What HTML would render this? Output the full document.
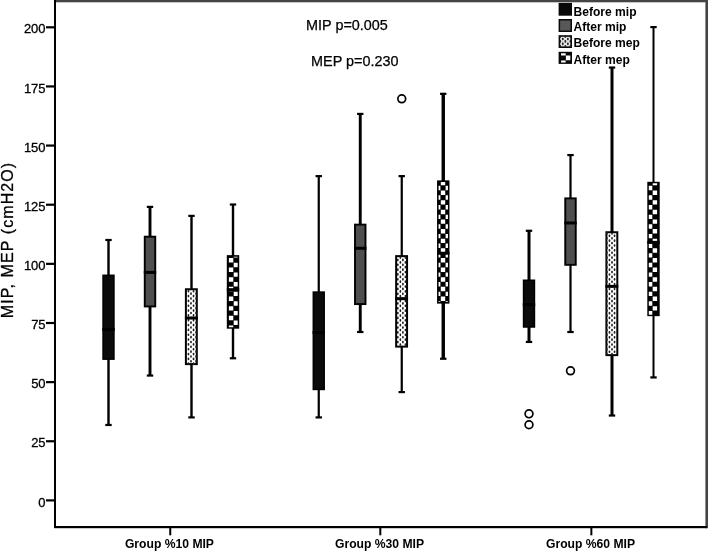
<!DOCTYPE html>
<html lang="en"><head><meta charset="utf-8"><title>MIP, MEP boxplot</title>
<style>
html,body{margin:0;padding:0;background:#fff}
svg{display:block}
text{font-family:"Liberation Sans",Arial,sans-serif;fill:#000}
.yt{font-size:13px;text-anchor:end;stroke:#000;stroke-width:.3px}
.xt{font-size:12.15px;font-weight:bold;text-anchor:middle}
.lg{font-size:12.05px;font-weight:bold}
.tt{font-size:14.4px;stroke:#000;stroke-width:.25px}
.yl{font-size:16px;text-anchor:middle;letter-spacing:1.1px;stroke:#000;stroke-width:.3px}
</style></head><body>
<svg width="708" height="552" viewBox="0 0 708 552">
<rect width="708" height="552" fill="#fff"/>

<rect x="54" y="0" width="654" height="2.3" fill="#444"/>
<rect x="705.4" y="0" width="2.6" height="528.2" fill="#444"/>
<rect x="54" y="0" width="2" height="528" fill="#000"/>
<rect x="54" y="526" width="653" height="2.2" fill="#000"/>
<rect x="46" y="499.3" width="9" height="2.2" fill="#000"/>
<text class="yt" x="45.6" y="506.5">0</text>
<rect x="46" y="440.16" width="9" height="2.2" fill="#000"/>
<text class="yt" x="45.6" y="447.36">25</text>
<rect x="46" y="381.03" width="9" height="2.2" fill="#000"/>
<text class="yt" x="45.6" y="388.23">50</text>
<rect x="46" y="321.89" width="9" height="2.2" fill="#000"/>
<text class="yt" x="45.6" y="329.09">75</text>
<rect x="46" y="262.75" width="9" height="2.2" fill="#000"/>
<text class="yt" x="45.6" y="269.95">100</text>
<rect x="46" y="203.61" width="9" height="2.2" fill="#000"/>
<text class="yt" x="45.6" y="210.81">125</text>
<rect x="46" y="144.47" width="9" height="2.2" fill="#000"/>
<text class="yt" x="45.6" y="151.68">150</text>
<rect x="46" y="85.34" width="9" height="2.2" fill="#000"/>
<text class="yt" x="45.6" y="92.54">175</text>
<rect x="46" y="26.2" width="9" height="2.2" fill="#000"/>
<text class="yt" x="45.6" y="33.4">200</text>
<rect x="169.25" y="527" width="2" height="8.3" fill="#000"/>
<text class="xt" x="169.45" y="548.4">Group %10 MIP</text>
<rect x="379.3" y="527" width="2" height="8.3" fill="#000"/>
<text class="xt" x="379.5" y="548.4">Group %30 MIP</text>
<rect x="590.35" y="527" width="2" height="8.3" fill="#000"/>
<text class="xt" x="590.55" y="548.4">Group %60 MIP</text>
<text class="tt" x="306.1" y="29.8">MIP p=0.005</text>
<text class="tt" x="311.1" y="66.3">MEP p=0.230</text>
<text class="yl" transform="translate(13,240) rotate(-90)">MIP, MEP (cmH2O)</text>
<g>
<rect x="107.3" y="240" width="2.4" height="184.98" fill="#000"/>
<rect x="105.3" y="238.9" width="6.4" height="2.2" fill="#000"/>
<rect x="105.3" y="423.88" width="6.4" height="2.2" fill="#000"/>
<rect x="102.3" y="274.53" width="12.4" height="85.38" fill="#000"/>
<rect x="103.8" y="276.03" width="9.4" height="82.38" fill="#0b0b0b"/>
<rect x="102.3" y="327.91" width="12.4" height="3" fill="#000"/>
</g>
<g>
<rect x="148.55" y="206.88" width="2.9" height="168.66" fill="#000"/>
<rect x="146.8" y="205.78" width="6.4" height="2.2" fill="#000"/>
<rect x="146.8" y="374.44" width="6.4" height="2.2" fill="#000"/>
<rect x="143.8" y="235.74" width="12.4" height="71.66" fill="#000"/>
<rect x="145.7" y="237.64" width="8.6" height="67.86" fill="#4f4f4f"/>
<rect x="143.8" y="270.9" width="12.4" height="3" fill="#000"/>
</g>
<g>
<rect x="190.3" y="215.87" width="2.4" height="201.54" fill="#000"/>
<rect x="188.3" y="214.77" width="6.4" height="2.2" fill="#000"/>
<rect x="188.3" y="416.31" width="6.4" height="2.2" fill="#000"/>
<rect x="184.9" y="288.25" width="12.9" height="76.87" fill="#000"/>
<rect x="186.9" y="290.25" width="8.9" height="72.87" fill="#fff"/>
<path fill="#1e1e1e" d="M187.56 291.27a0.9 1.35 0 1 0 1.8 0a0.9 1.35 0 1 0 -1.8 0zM187.56 296.1a0.9 1.35 0 1 0 1.8 0a0.9 1.35 0 1 0 -1.8 0zM187.56 300.93a0.9 1.35 0 1 0 1.8 0a0.9 1.35 0 1 0 -1.8 0zM187.56 305.76a0.9 1.35 0 1 0 1.8 0a0.9 1.35 0 1 0 -1.8 0zM187.56 310.59a0.9 1.35 0 1 0 1.8 0a0.9 1.35 0 1 0 -1.8 0zM187.56 315.42a0.9 1.35 0 1 0 1.8 0a0.9 1.35 0 1 0 -1.8 0zM187.56 320.25a0.9 1.35 0 1 0 1.8 0a0.9 1.35 0 1 0 -1.8 0zM187.56 325.08a0.9 1.35 0 1 0 1.8 0a0.9 1.35 0 1 0 -1.8 0zM187.56 329.91a0.9 1.35 0 1 0 1.8 0a0.9 1.35 0 1 0 -1.8 0zM187.56 334.74a0.9 1.35 0 1 0 1.8 0a0.9 1.35 0 1 0 -1.8 0zM187.56 339.57a0.9 1.35 0 1 0 1.8 0a0.9 1.35 0 1 0 -1.8 0zM187.56 344.4a0.9 1.35 0 1 0 1.8 0a0.9 1.35 0 1 0 -1.8 0zM187.56 349.23a0.9 1.35 0 1 0 1.8 0a0.9 1.35 0 1 0 -1.8 0zM187.56 354.06a0.9 1.35 0 1 0 1.8 0a0.9 1.35 0 1 0 -1.8 0zM187.56 358.89a0.9 1.35 0 1 0 1.8 0a0.9 1.35 0 1 0 -1.8 0zM187.56 363.72a0.9 1.35 0 1 0 1.8 0a0.9 1.35 0 1 0 -1.8 0zM190.1 293.69a0.9 1.35 0 1 0 1.8 0a0.9 1.35 0 1 0 -1.8 0zM190.1 298.52a0.9 1.35 0 1 0 1.8 0a0.9 1.35 0 1 0 -1.8 0zM190.1 303.35a0.9 1.35 0 1 0 1.8 0a0.9 1.35 0 1 0 -1.8 0zM190.1 308.18a0.9 1.35 0 1 0 1.8 0a0.9 1.35 0 1 0 -1.8 0zM190.1 313a0.9 1.35 0 1 0 1.8 0a0.9 1.35 0 1 0 -1.8 0zM190.1 317.84a0.9 1.35 0 1 0 1.8 0a0.9 1.35 0 1 0 -1.8 0zM190.1 322.67a0.9 1.35 0 1 0 1.8 0a0.9 1.35 0 1 0 -1.8 0zM190.1 327.5a0.9 1.35 0 1 0 1.8 0a0.9 1.35 0 1 0 -1.8 0zM190.1 332.33a0.9 1.35 0 1 0 1.8 0a0.9 1.35 0 1 0 -1.8 0zM190.1 337.16a0.9 1.35 0 1 0 1.8 0a0.9 1.35 0 1 0 -1.8 0zM190.1 341.99a0.9 1.35 0 1 0 1.8 0a0.9 1.35 0 1 0 -1.8 0zM190.1 346.82a0.9 1.35 0 1 0 1.8 0a0.9 1.35 0 1 0 -1.8 0zM190.1 351.65a0.9 1.35 0 1 0 1.8 0a0.9 1.35 0 1 0 -1.8 0zM190.1 356.48a0.9 1.35 0 1 0 1.8 0a0.9 1.35 0 1 0 -1.8 0zM190.1 361.31a0.9 1.35 0 1 0 1.8 0a0.9 1.35 0 1 0 -1.8 0zM192.64 291.27a0.9 1.35 0 1 0 1.8 0a0.9 1.35 0 1 0 -1.8 0zM192.64 296.1a0.9 1.35 0 1 0 1.8 0a0.9 1.35 0 1 0 -1.8 0zM192.64 300.93a0.9 1.35 0 1 0 1.8 0a0.9 1.35 0 1 0 -1.8 0zM192.64 305.76a0.9 1.35 0 1 0 1.8 0a0.9 1.35 0 1 0 -1.8 0zM192.64 310.59a0.9 1.35 0 1 0 1.8 0a0.9 1.35 0 1 0 -1.8 0zM192.64 315.42a0.9 1.35 0 1 0 1.8 0a0.9 1.35 0 1 0 -1.8 0zM192.64 320.25a0.9 1.35 0 1 0 1.8 0a0.9 1.35 0 1 0 -1.8 0zM192.64 325.08a0.9 1.35 0 1 0 1.8 0a0.9 1.35 0 1 0 -1.8 0zM192.64 329.91a0.9 1.35 0 1 0 1.8 0a0.9 1.35 0 1 0 -1.8 0zM192.64 334.74a0.9 1.35 0 1 0 1.8 0a0.9 1.35 0 1 0 -1.8 0zM192.64 339.57a0.9 1.35 0 1 0 1.8 0a0.9 1.35 0 1 0 -1.8 0zM192.64 344.4a0.9 1.35 0 1 0 1.8 0a0.9 1.35 0 1 0 -1.8 0zM192.64 349.23a0.9 1.35 0 1 0 1.8 0a0.9 1.35 0 1 0 -1.8 0zM192.64 354.06a0.9 1.35 0 1 0 1.8 0a0.9 1.35 0 1 0 -1.8 0zM192.64 358.89a0.9 1.35 0 1 0 1.8 0a0.9 1.35 0 1 0 -1.8 0zM192.64 363.72a0.9 1.35 0 1 0 1.8 0a0.9 1.35 0 1 0 -1.8 0zM195.18 293.69a0.9 1.35 0 1 0 1.8 0a0.9 1.35 0 1 0 -1.8 0zM195.18 298.52a0.9 1.35 0 1 0 1.8 0a0.9 1.35 0 1 0 -1.8 0zM195.18 303.35a0.9 1.35 0 1 0 1.8 0a0.9 1.35 0 1 0 -1.8 0zM195.18 308.18a0.9 1.35 0 1 0 1.8 0a0.9 1.35 0 1 0 -1.8 0zM195.18 313a0.9 1.35 0 1 0 1.8 0a0.9 1.35 0 1 0 -1.8 0zM195.18 317.84a0.9 1.35 0 1 0 1.8 0a0.9 1.35 0 1 0 -1.8 0zM195.18 322.67a0.9 1.35 0 1 0 1.8 0a0.9 1.35 0 1 0 -1.8 0zM195.18 327.5a0.9 1.35 0 1 0 1.8 0a0.9 1.35 0 1 0 -1.8 0zM195.18 332.33a0.9 1.35 0 1 0 1.8 0a0.9 1.35 0 1 0 -1.8 0zM195.18 337.16a0.9 1.35 0 1 0 1.8 0a0.9 1.35 0 1 0 -1.8 0zM195.18 341.99a0.9 1.35 0 1 0 1.8 0a0.9 1.35 0 1 0 -1.8 0zM195.18 346.82a0.9 1.35 0 1 0 1.8 0a0.9 1.35 0 1 0 -1.8 0zM195.18 351.65a0.9 1.35 0 1 0 1.8 0a0.9 1.35 0 1 0 -1.8 0zM195.18 356.48a0.9 1.35 0 1 0 1.8 0a0.9 1.35 0 1 0 -1.8 0zM195.18 361.31a0.9 1.35 0 1 0 1.8 0a0.9 1.35 0 1 0 -1.8 0z"/>
<rect x="184.9" y="316.56" width="12.9" height="3" fill="#000"/>
</g>
<g>
<rect x="231.8" y="204.51" width="2.4" height="153.76" fill="#000"/>
<rect x="229.8" y="203.41" width="6.4" height="2.2" fill="#000"/>
<rect x="229.8" y="357.17" width="6.4" height="2.2" fill="#000"/>
<rect x="226.8" y="255.13" width="12.4" height="73.56" fill="#000"/>
<path fill="#fff" d="M228.88 257.97H233.3V262.39H228.88zM228.88 267.6H233.3V272.02H228.88zM228.88 277.23H233.3V281.65H228.88zM228.88 286.87H233.3V291.28H228.88zM228.88 296.5H233.3V300.91H228.88zM228.88 306.13H233.3V310.55H228.88zM228.88 315.76H233.3V320.18H228.88zM228.88 325.39H233.3V327.19H228.88zM233.7 256.63H237.7V257.57H233.7zM233.7 262.79H237.7V267.2H233.7zM233.7 272.42H237.7V276.83H233.7zM233.7 282.05H237.7V286.47H233.7zM233.7 291.68H237.7V296.1H233.7zM233.7 301.31H237.7V305.73H233.7zM233.7 310.95H237.7V315.36H233.7zM233.7 320.58H237.7V324.99H233.7z"/>
<rect x="226.8" y="288.17" width="12.4" height="3" fill="#000"/>
</g>
<g>
<rect x="317.65" y="176.13" width="2.2" height="241.28" fill="#000"/>
<rect x="315.55" y="175.03" width="6.4" height="2.2" fill="#000"/>
<rect x="315.55" y="416.31" width="6.4" height="2.2" fill="#000"/>
<rect x="312.55" y="291.33" width="12.4" height="98.87" fill="#000"/>
<rect x="314.05" y="292.83" width="9.4" height="95.87" fill="#0b0b0b"/>
<rect x="312.55" y="330.99" width="12.4" height="3" fill="#000"/>
</g>
<g>
<rect x="358.8" y="113.91" width="2.9" height="218.1" fill="#000"/>
<rect x="357.05" y="112.81" width="6.4" height="2.2" fill="#000"/>
<rect x="357.05" y="330.91" width="6.4" height="2.2" fill="#000"/>
<rect x="354.05" y="223.67" width="12.4" height="81.36" fill="#000"/>
<rect x="355.95" y="225.57" width="8.6" height="77.56" fill="#4f4f4f"/>
<rect x="354.05" y="246.77" width="12.4" height="3" fill="#000"/>
</g>
<g>
<rect x="400.65" y="176.13" width="2.2" height="215.97" fill="#000"/>
<rect x="398.55" y="175.03" width="6.4" height="2.2" fill="#000"/>
<rect x="398.55" y="391" width="6.4" height="2.2" fill="#000"/>
<rect x="395.15" y="255.13" width="12.9" height="92.48" fill="#000"/>
<rect x="397.15" y="257.13" width="8.9" height="88.48" fill="#fff"/>
<path fill="#1e1e1e" d="M396.93 259.98a0.9 1.35 0 1 0 1.8 0a0.9 1.35 0 1 0 -1.8 0zM396.93 264.81a0.9 1.35 0 1 0 1.8 0a0.9 1.35 0 1 0 -1.8 0zM396.93 269.64a0.9 1.35 0 1 0 1.8 0a0.9 1.35 0 1 0 -1.8 0zM396.93 274.47a0.9 1.35 0 1 0 1.8 0a0.9 1.35 0 1 0 -1.8 0zM396.93 279.3a0.9 1.35 0 1 0 1.8 0a0.9 1.35 0 1 0 -1.8 0zM396.93 284.13a0.9 1.35 0 1 0 1.8 0a0.9 1.35 0 1 0 -1.8 0zM396.93 288.96a0.9 1.35 0 1 0 1.8 0a0.9 1.35 0 1 0 -1.8 0zM396.93 293.79a0.9 1.35 0 1 0 1.8 0a0.9 1.35 0 1 0 -1.8 0zM396.93 298.62a0.9 1.35 0 1 0 1.8 0a0.9 1.35 0 1 0 -1.8 0zM396.93 303.45a0.9 1.35 0 1 0 1.8 0a0.9 1.35 0 1 0 -1.8 0zM396.93 308.28a0.9 1.35 0 1 0 1.8 0a0.9 1.35 0 1 0 -1.8 0zM396.93 313.12a0.9 1.35 0 1 0 1.8 0a0.9 1.35 0 1 0 -1.8 0zM396.93 317.94a0.9 1.35 0 1 0 1.8 0a0.9 1.35 0 1 0 -1.8 0zM396.93 322.77a0.9 1.35 0 1 0 1.8 0a0.9 1.35 0 1 0 -1.8 0zM396.93 327.6a0.9 1.35 0 1 0 1.8 0a0.9 1.35 0 1 0 -1.8 0zM396.93 332.43a0.9 1.35 0 1 0 1.8 0a0.9 1.35 0 1 0 -1.8 0zM396.93 337.26a0.9 1.35 0 1 0 1.8 0a0.9 1.35 0 1 0 -1.8 0zM396.93 342.09a0.9 1.35 0 1 0 1.8 0a0.9 1.35 0 1 0 -1.8 0zM399.47 257.57a0.9 1.35 0 1 0 1.8 0a0.9 1.35 0 1 0 -1.8 0zM399.47 262.4a0.9 1.35 0 1 0 1.8 0a0.9 1.35 0 1 0 -1.8 0zM399.47 267.23a0.9 1.35 0 1 0 1.8 0a0.9 1.35 0 1 0 -1.8 0zM399.47 272.06a0.9 1.35 0 1 0 1.8 0a0.9 1.35 0 1 0 -1.8 0zM399.47 276.89a0.9 1.35 0 1 0 1.8 0a0.9 1.35 0 1 0 -1.8 0zM399.47 281.72a0.9 1.35 0 1 0 1.8 0a0.9 1.35 0 1 0 -1.8 0zM399.47 286.55a0.9 1.35 0 1 0 1.8 0a0.9 1.35 0 1 0 -1.8 0zM399.47 291.38a0.9 1.35 0 1 0 1.8 0a0.9 1.35 0 1 0 -1.8 0zM399.47 296.21a0.9 1.35 0 1 0 1.8 0a0.9 1.35 0 1 0 -1.8 0zM399.47 301.04a0.9 1.35 0 1 0 1.8 0a0.9 1.35 0 1 0 -1.8 0zM399.47 305.87a0.9 1.35 0 1 0 1.8 0a0.9 1.35 0 1 0 -1.8 0zM399.47 310.7a0.9 1.35 0 1 0 1.8 0a0.9 1.35 0 1 0 -1.8 0zM399.47 315.53a0.9 1.35 0 1 0 1.8 0a0.9 1.35 0 1 0 -1.8 0zM399.47 320.36a0.9 1.35 0 1 0 1.8 0a0.9 1.35 0 1 0 -1.8 0zM399.47 325.19a0.9 1.35 0 1 0 1.8 0a0.9 1.35 0 1 0 -1.8 0zM399.47 330.02a0.9 1.35 0 1 0 1.8 0a0.9 1.35 0 1 0 -1.8 0zM399.47 334.85a0.9 1.35 0 1 0 1.8 0a0.9 1.35 0 1 0 -1.8 0zM399.47 339.68a0.9 1.35 0 1 0 1.8 0a0.9 1.35 0 1 0 -1.8 0zM399.47 344.51a0.9 1.35 0 1 0 1.8 0a0.9 1.35 0 1 0 -1.8 0zM402.01 259.98a0.9 1.35 0 1 0 1.8 0a0.9 1.35 0 1 0 -1.8 0zM402.01 264.81a0.9 1.35 0 1 0 1.8 0a0.9 1.35 0 1 0 -1.8 0zM402.01 269.64a0.9 1.35 0 1 0 1.8 0a0.9 1.35 0 1 0 -1.8 0zM402.01 274.47a0.9 1.35 0 1 0 1.8 0a0.9 1.35 0 1 0 -1.8 0zM402.01 279.3a0.9 1.35 0 1 0 1.8 0a0.9 1.35 0 1 0 -1.8 0zM402.01 284.13a0.9 1.35 0 1 0 1.8 0a0.9 1.35 0 1 0 -1.8 0zM402.01 288.96a0.9 1.35 0 1 0 1.8 0a0.9 1.35 0 1 0 -1.8 0zM402.01 293.79a0.9 1.35 0 1 0 1.8 0a0.9 1.35 0 1 0 -1.8 0zM402.01 298.62a0.9 1.35 0 1 0 1.8 0a0.9 1.35 0 1 0 -1.8 0zM402.01 303.45a0.9 1.35 0 1 0 1.8 0a0.9 1.35 0 1 0 -1.8 0zM402.01 308.28a0.9 1.35 0 1 0 1.8 0a0.9 1.35 0 1 0 -1.8 0zM402.01 313.12a0.9 1.35 0 1 0 1.8 0a0.9 1.35 0 1 0 -1.8 0zM402.01 317.94a0.9 1.35 0 1 0 1.8 0a0.9 1.35 0 1 0 -1.8 0zM402.01 322.77a0.9 1.35 0 1 0 1.8 0a0.9 1.35 0 1 0 -1.8 0zM402.01 327.6a0.9 1.35 0 1 0 1.8 0a0.9 1.35 0 1 0 -1.8 0zM402.01 332.43a0.9 1.35 0 1 0 1.8 0a0.9 1.35 0 1 0 -1.8 0zM402.01 337.26a0.9 1.35 0 1 0 1.8 0a0.9 1.35 0 1 0 -1.8 0zM402.01 342.09a0.9 1.35 0 1 0 1.8 0a0.9 1.35 0 1 0 -1.8 0zM404.55 257.57a0.9 1.35 0 1 0 1.8 0a0.9 1.35 0 1 0 -1.8 0zM404.55 262.4a0.9 1.35 0 1 0 1.8 0a0.9 1.35 0 1 0 -1.8 0zM404.55 267.23a0.9 1.35 0 1 0 1.8 0a0.9 1.35 0 1 0 -1.8 0zM404.55 272.06a0.9 1.35 0 1 0 1.8 0a0.9 1.35 0 1 0 -1.8 0zM404.55 276.89a0.9 1.35 0 1 0 1.8 0a0.9 1.35 0 1 0 -1.8 0zM404.55 281.72a0.9 1.35 0 1 0 1.8 0a0.9 1.35 0 1 0 -1.8 0zM404.55 286.55a0.9 1.35 0 1 0 1.8 0a0.9 1.35 0 1 0 -1.8 0zM404.55 291.38a0.9 1.35 0 1 0 1.8 0a0.9 1.35 0 1 0 -1.8 0zM404.55 296.21a0.9 1.35 0 1 0 1.8 0a0.9 1.35 0 1 0 -1.8 0zM404.55 301.04a0.9 1.35 0 1 0 1.8 0a0.9 1.35 0 1 0 -1.8 0zM404.55 305.87a0.9 1.35 0 1 0 1.8 0a0.9 1.35 0 1 0 -1.8 0zM404.55 310.7a0.9 1.35 0 1 0 1.8 0a0.9 1.35 0 1 0 -1.8 0zM404.55 315.53a0.9 1.35 0 1 0 1.8 0a0.9 1.35 0 1 0 -1.8 0zM404.55 320.36a0.9 1.35 0 1 0 1.8 0a0.9 1.35 0 1 0 -1.8 0zM404.55 325.19a0.9 1.35 0 1 0 1.8 0a0.9 1.35 0 1 0 -1.8 0zM404.55 330.02a0.9 1.35 0 1 0 1.8 0a0.9 1.35 0 1 0 -1.8 0zM404.55 334.85a0.9 1.35 0 1 0 1.8 0a0.9 1.35 0 1 0 -1.8 0zM404.55 339.68a0.9 1.35 0 1 0 1.8 0a0.9 1.35 0 1 0 -1.8 0zM404.55 344.51a0.9 1.35 0 1 0 1.8 0a0.9 1.35 0 1 0 -1.8 0z"/>
<rect x="395.15" y="297.16" width="12.9" height="3" fill="#000"/>
<circle cx="401.75" cy="98.77" r="3.9" fill="#fff" stroke="#000" stroke-width="1.7"/>
</g>
<g>
<rect x="441.55" y="93.81" width="3.4" height="264.94" fill="#000"/>
<rect x="440.05" y="92.71" width="6.4" height="2.2" fill="#000"/>
<rect x="440.05" y="357.64" width="6.4" height="2.2" fill="#000"/>
<rect x="437.05" y="180.38" width="12.4" height="123.23" fill="#000"/>
<path fill="#fff" d="M438.55 185.73H440.39V190.15H438.55zM438.55 195.36H440.39V199.78H438.55zM438.55 204.99H440.39V209.41H438.55zM438.55 214.63H440.39V219.04H438.55zM438.55 224.26H440.39V228.67H438.55zM438.55 233.89H440.39V238.31H438.55zM438.55 243.52H440.39V247.94H438.55zM438.55 253.15H440.39V257.57H438.55zM438.55 262.79H440.39V267.2H438.55zM438.55 272.42H440.39V276.83H438.55zM438.55 282.05H440.39V286.47H438.55zM438.55 291.68H440.39V296.1H438.55zM438.55 301.31H440.39V302.12H438.55zM440.79 181.88H445.2V185.33H440.79zM440.79 190.55H445.2V194.96H440.79zM440.79 200.18H445.2V204.59H440.79zM440.79 209.81H445.2V214.23H440.79zM440.79 219.44H445.2V223.86H440.79zM440.79 229.07H445.2V233.49H440.79zM440.79 238.71H445.2V243.12H440.79zM440.79 248.34H445.2V252.75H440.79zM440.79 257.97H445.2V262.39H440.79zM440.79 267.6H445.2V272.02H440.79zM440.79 277.23H445.2V281.65H440.79zM440.79 286.87H445.2V291.28H440.79zM440.79 296.5H445.2V300.91H440.79zM445.6 185.73H447.95V190.15H445.6zM445.6 195.36H447.95V199.78H445.6zM445.6 204.99H447.95V209.41H445.6zM445.6 214.63H447.95V219.04H445.6zM445.6 224.26H447.95V228.67H445.6zM445.6 233.89H447.95V238.31H445.6zM445.6 243.52H447.95V247.94H445.6zM445.6 253.15H447.95V257.57H445.6zM445.6 262.79H447.95V267.2H445.6zM445.6 272.42H447.95V276.83H445.6zM445.6 282.05H447.95V286.47H445.6zM445.6 291.68H447.95V296.1H445.6zM445.6 301.31H447.95V302.12H445.6z"/>
<rect x="437.05" y="251.74" width="12.4" height="3" fill="#000"/>
</g>
<g>
<rect x="527.5" y="230.77" width="3" height="111.18" fill="#000"/>
<rect x="525.8" y="229.67" width="6.4" height="2.2" fill="#000"/>
<rect x="525.8" y="340.85" width="6.4" height="2.2" fill="#000"/>
<rect x="522.8" y="279.5" width="12.4" height="48.25" fill="#000"/>
<rect x="524.3" y="281" width="9.4" height="45.25" fill="#0b0b0b"/>
<rect x="522.8" y="303.07" width="12.4" height="3" fill="#000"/>
<circle cx="529" cy="413.86" r="3.9" fill="#fff" stroke="#000" stroke-width="1.7"/>
<circle cx="529" cy="424.74" r="3.9" fill="#fff" stroke="#000" stroke-width="1.7"/>
</g>
<g>
<rect x="569.4" y="155.07" width="2.2" height="176.94" fill="#000"/>
<rect x="567.3" y="153.97" width="6.4" height="2.2" fill="#000"/>
<rect x="567.3" y="330.91" width="6.4" height="2.2" fill="#000"/>
<rect x="564.3" y="197.42" width="12.4" height="68.35" fill="#000"/>
<rect x="566.2" y="199.32" width="8.6" height="64.55" fill="#4f4f4f"/>
<rect x="564.3" y="221.46" width="12.4" height="3" fill="#000"/>
<circle cx="570.5" cy="370.81" r="3.9" fill="#fff" stroke="#000" stroke-width="1.7"/>
</g>
<g>
<rect x="610.5" y="67.55" width="3" height="347.97" fill="#000"/>
<rect x="608.8" y="66.45" width="6.4" height="2.2" fill="#000"/>
<rect x="608.8" y="414.42" width="6.4" height="2.2" fill="#000"/>
<rect x="605.4" y="231.24" width="12.9" height="124.89" fill="#000"/>
<rect x="607.4" y="233.24" width="8.9" height="120.89" fill="#fff"/>
<path fill="#1e1e1e" d="M606.03 233.44a0.9 1.35 0 1 0 1.8 0a0.9 1.35 0 1 0 -1.8 0zM606.03 238.26a0.9 1.35 0 1 0 1.8 0a0.9 1.35 0 1 0 -1.8 0zM606.03 243.09a0.9 1.35 0 1 0 1.8 0a0.9 1.35 0 1 0 -1.8 0zM606.03 247.92a0.9 1.35 0 1 0 1.8 0a0.9 1.35 0 1 0 -1.8 0zM606.03 252.75a0.9 1.35 0 1 0 1.8 0a0.9 1.35 0 1 0 -1.8 0zM606.03 257.58a0.9 1.35 0 1 0 1.8 0a0.9 1.35 0 1 0 -1.8 0zM606.03 262.42a0.9 1.35 0 1 0 1.8 0a0.9 1.35 0 1 0 -1.8 0zM606.03 267.25a0.9 1.35 0 1 0 1.8 0a0.9 1.35 0 1 0 -1.8 0zM606.03 272.07a0.9 1.35 0 1 0 1.8 0a0.9 1.35 0 1 0 -1.8 0zM606.03 276.9a0.9 1.35 0 1 0 1.8 0a0.9 1.35 0 1 0 -1.8 0zM606.03 281.74a0.9 1.35 0 1 0 1.8 0a0.9 1.35 0 1 0 -1.8 0zM606.03 286.56a0.9 1.35 0 1 0 1.8 0a0.9 1.35 0 1 0 -1.8 0zM606.03 291.39a0.9 1.35 0 1 0 1.8 0a0.9 1.35 0 1 0 -1.8 0zM606.03 296.23a0.9 1.35 0 1 0 1.8 0a0.9 1.35 0 1 0 -1.8 0zM606.03 301.06a0.9 1.35 0 1 0 1.8 0a0.9 1.35 0 1 0 -1.8 0zM606.03 305.88a0.9 1.35 0 1 0 1.8 0a0.9 1.35 0 1 0 -1.8 0zM606.03 310.71a0.9 1.35 0 1 0 1.8 0a0.9 1.35 0 1 0 -1.8 0zM606.03 315.55a0.9 1.35 0 1 0 1.8 0a0.9 1.35 0 1 0 -1.8 0zM606.03 320.38a0.9 1.35 0 1 0 1.8 0a0.9 1.35 0 1 0 -1.8 0zM606.03 325.2a0.9 1.35 0 1 0 1.8 0a0.9 1.35 0 1 0 -1.8 0zM606.03 330.03a0.9 1.35 0 1 0 1.8 0a0.9 1.35 0 1 0 -1.8 0zM606.03 334.87a0.9 1.35 0 1 0 1.8 0a0.9 1.35 0 1 0 -1.8 0zM606.03 339.69a0.9 1.35 0 1 0 1.8 0a0.9 1.35 0 1 0 -1.8 0zM606.03 344.52a0.9 1.35 0 1 0 1.8 0a0.9 1.35 0 1 0 -1.8 0zM606.03 349.36a0.9 1.35 0 1 0 1.8 0a0.9 1.35 0 1 0 -1.8 0zM606.03 354.19a0.9 1.35 0 1 0 1.8 0a0.9 1.35 0 1 0 -1.8 0zM608.57 235.85a0.9 1.35 0 1 0 1.8 0a0.9 1.35 0 1 0 -1.8 0zM608.57 240.68a0.9 1.35 0 1 0 1.8 0a0.9 1.35 0 1 0 -1.8 0zM608.57 245.51a0.9 1.35 0 1 0 1.8 0a0.9 1.35 0 1 0 -1.8 0zM608.57 250.34a0.9 1.35 0 1 0 1.8 0a0.9 1.35 0 1 0 -1.8 0zM608.57 255.17a0.9 1.35 0 1 0 1.8 0a0.9 1.35 0 1 0 -1.8 0zM608.57 260a0.9 1.35 0 1 0 1.8 0a0.9 1.35 0 1 0 -1.8 0zM608.57 264.83a0.9 1.35 0 1 0 1.8 0a0.9 1.35 0 1 0 -1.8 0zM608.57 269.66a0.9 1.35 0 1 0 1.8 0a0.9 1.35 0 1 0 -1.8 0zM608.57 274.49a0.9 1.35 0 1 0 1.8 0a0.9 1.35 0 1 0 -1.8 0zM608.57 279.32a0.9 1.35 0 1 0 1.8 0a0.9 1.35 0 1 0 -1.8 0zM608.57 284.15a0.9 1.35 0 1 0 1.8 0a0.9 1.35 0 1 0 -1.8 0zM608.57 288.98a0.9 1.35 0 1 0 1.8 0a0.9 1.35 0 1 0 -1.8 0zM608.57 293.81a0.9 1.35 0 1 0 1.8 0a0.9 1.35 0 1 0 -1.8 0zM608.57 298.64a0.9 1.35 0 1 0 1.8 0a0.9 1.35 0 1 0 -1.8 0zM608.57 303.47a0.9 1.35 0 1 0 1.8 0a0.9 1.35 0 1 0 -1.8 0zM608.57 308.3a0.9 1.35 0 1 0 1.8 0a0.9 1.35 0 1 0 -1.8 0zM608.57 313.13a0.9 1.35 0 1 0 1.8 0a0.9 1.35 0 1 0 -1.8 0zM608.57 317.96a0.9 1.35 0 1 0 1.8 0a0.9 1.35 0 1 0 -1.8 0zM608.57 322.79a0.9 1.35 0 1 0 1.8 0a0.9 1.35 0 1 0 -1.8 0zM608.57 327.62a0.9 1.35 0 1 0 1.8 0a0.9 1.35 0 1 0 -1.8 0zM608.57 332.45a0.9 1.35 0 1 0 1.8 0a0.9 1.35 0 1 0 -1.8 0zM608.57 337.28a0.9 1.35 0 1 0 1.8 0a0.9 1.35 0 1 0 -1.8 0zM608.57 342.11a0.9 1.35 0 1 0 1.8 0a0.9 1.35 0 1 0 -1.8 0zM608.57 346.94a0.9 1.35 0 1 0 1.8 0a0.9 1.35 0 1 0 -1.8 0zM608.57 351.77a0.9 1.35 0 1 0 1.8 0a0.9 1.35 0 1 0 -1.8 0zM611.11 233.44a0.9 1.35 0 1 0 1.8 0a0.9 1.35 0 1 0 -1.8 0zM611.11 238.26a0.9 1.35 0 1 0 1.8 0a0.9 1.35 0 1 0 -1.8 0zM611.11 243.09a0.9 1.35 0 1 0 1.8 0a0.9 1.35 0 1 0 -1.8 0zM611.11 247.92a0.9 1.35 0 1 0 1.8 0a0.9 1.35 0 1 0 -1.8 0zM611.11 252.75a0.9 1.35 0 1 0 1.8 0a0.9 1.35 0 1 0 -1.8 0zM611.11 257.58a0.9 1.35 0 1 0 1.8 0a0.9 1.35 0 1 0 -1.8 0zM611.11 262.42a0.9 1.35 0 1 0 1.8 0a0.9 1.35 0 1 0 -1.8 0zM611.11 267.25a0.9 1.35 0 1 0 1.8 0a0.9 1.35 0 1 0 -1.8 0zM611.11 272.07a0.9 1.35 0 1 0 1.8 0a0.9 1.35 0 1 0 -1.8 0zM611.11 276.9a0.9 1.35 0 1 0 1.8 0a0.9 1.35 0 1 0 -1.8 0zM611.11 281.74a0.9 1.35 0 1 0 1.8 0a0.9 1.35 0 1 0 -1.8 0zM611.11 286.56a0.9 1.35 0 1 0 1.8 0a0.9 1.35 0 1 0 -1.8 0zM611.11 291.39a0.9 1.35 0 1 0 1.8 0a0.9 1.35 0 1 0 -1.8 0zM611.11 296.23a0.9 1.35 0 1 0 1.8 0a0.9 1.35 0 1 0 -1.8 0zM611.11 301.06a0.9 1.35 0 1 0 1.8 0a0.9 1.35 0 1 0 -1.8 0zM611.11 305.88a0.9 1.35 0 1 0 1.8 0a0.9 1.35 0 1 0 -1.8 0zM611.11 310.71a0.9 1.35 0 1 0 1.8 0a0.9 1.35 0 1 0 -1.8 0zM611.11 315.55a0.9 1.35 0 1 0 1.8 0a0.9 1.35 0 1 0 -1.8 0zM611.11 320.38a0.9 1.35 0 1 0 1.8 0a0.9 1.35 0 1 0 -1.8 0zM611.11 325.2a0.9 1.35 0 1 0 1.8 0a0.9 1.35 0 1 0 -1.8 0zM611.11 330.03a0.9 1.35 0 1 0 1.8 0a0.9 1.35 0 1 0 -1.8 0zM611.11 334.87a0.9 1.35 0 1 0 1.8 0a0.9 1.35 0 1 0 -1.8 0zM611.11 339.69a0.9 1.35 0 1 0 1.8 0a0.9 1.35 0 1 0 -1.8 0zM611.11 344.52a0.9 1.35 0 1 0 1.8 0a0.9 1.35 0 1 0 -1.8 0zM611.11 349.36a0.9 1.35 0 1 0 1.8 0a0.9 1.35 0 1 0 -1.8 0zM611.11 354.19a0.9 1.35 0 1 0 1.8 0a0.9 1.35 0 1 0 -1.8 0zM613.65 235.85a0.9 1.35 0 1 0 1.8 0a0.9 1.35 0 1 0 -1.8 0zM613.65 240.68a0.9 1.35 0 1 0 1.8 0a0.9 1.35 0 1 0 -1.8 0zM613.65 245.51a0.9 1.35 0 1 0 1.8 0a0.9 1.35 0 1 0 -1.8 0zM613.65 250.34a0.9 1.35 0 1 0 1.8 0a0.9 1.35 0 1 0 -1.8 0zM613.65 255.17a0.9 1.35 0 1 0 1.8 0a0.9 1.35 0 1 0 -1.8 0zM613.65 260a0.9 1.35 0 1 0 1.8 0a0.9 1.35 0 1 0 -1.8 0zM613.65 264.83a0.9 1.35 0 1 0 1.8 0a0.9 1.35 0 1 0 -1.8 0zM613.65 269.66a0.9 1.35 0 1 0 1.8 0a0.9 1.35 0 1 0 -1.8 0zM613.65 274.49a0.9 1.35 0 1 0 1.8 0a0.9 1.35 0 1 0 -1.8 0zM613.65 279.32a0.9 1.35 0 1 0 1.8 0a0.9 1.35 0 1 0 -1.8 0zM613.65 284.15a0.9 1.35 0 1 0 1.8 0a0.9 1.35 0 1 0 -1.8 0zM613.65 288.98a0.9 1.35 0 1 0 1.8 0a0.9 1.35 0 1 0 -1.8 0zM613.65 293.81a0.9 1.35 0 1 0 1.8 0a0.9 1.35 0 1 0 -1.8 0zM613.65 298.64a0.9 1.35 0 1 0 1.8 0a0.9 1.35 0 1 0 -1.8 0zM613.65 303.47a0.9 1.35 0 1 0 1.8 0a0.9 1.35 0 1 0 -1.8 0zM613.65 308.3a0.9 1.35 0 1 0 1.8 0a0.9 1.35 0 1 0 -1.8 0zM613.65 313.13a0.9 1.35 0 1 0 1.8 0a0.9 1.35 0 1 0 -1.8 0zM613.65 317.96a0.9 1.35 0 1 0 1.8 0a0.9 1.35 0 1 0 -1.8 0zM613.65 322.79a0.9 1.35 0 1 0 1.8 0a0.9 1.35 0 1 0 -1.8 0zM613.65 327.62a0.9 1.35 0 1 0 1.8 0a0.9 1.35 0 1 0 -1.8 0zM613.65 332.45a0.9 1.35 0 1 0 1.8 0a0.9 1.35 0 1 0 -1.8 0zM613.65 337.28a0.9 1.35 0 1 0 1.8 0a0.9 1.35 0 1 0 -1.8 0zM613.65 342.11a0.9 1.35 0 1 0 1.8 0a0.9 1.35 0 1 0 -1.8 0zM613.65 346.94a0.9 1.35 0 1 0 1.8 0a0.9 1.35 0 1 0 -1.8 0zM613.65 351.77a0.9 1.35 0 1 0 1.8 0a0.9 1.35 0 1 0 -1.8 0z"/>
<rect x="605.4" y="284.86" width="12.9" height="3" fill="#000"/>
</g>
<g>
<rect x="652.5" y="27.1" width="2" height="350.33" fill="#000"/>
<rect x="650.3" y="26" width="6.4" height="2.2" fill="#000"/>
<rect x="650.3" y="376.33" width="6.4" height="2.2" fill="#000"/>
<rect x="647.3" y="181.8" width="12.4" height="134.35" fill="#000"/>
<path fill="#fff" d="M648.8 185.73H652.29V190.15H648.8zM648.8 195.36H652.29V199.78H648.8zM648.8 204.99H652.29V209.41H648.8zM648.8 214.63H652.29V219.04H648.8zM648.8 224.26H652.29V228.67H648.8zM648.8 233.89H652.29V238.31H648.8zM648.8 243.52H652.29V247.94H648.8zM648.8 253.15H652.29V257.57H648.8zM648.8 262.79H652.29V267.2H648.8zM648.8 272.42H652.29V276.83H648.8zM648.8 282.05H652.29V286.47H648.8zM648.8 291.68H652.29V296.1H648.8zM648.8 301.31H652.29V305.73H648.8zM648.8 310.95H652.29V314.65H648.8zM652.69 183.3H657.11V185.33H652.69zM652.69 190.55H657.11V194.96H652.69zM652.69 200.18H657.11V204.59H652.69zM652.69 209.81H657.11V214.23H652.69zM652.69 219.44H657.11V223.86H652.69zM652.69 229.07H657.11V233.49H652.69zM652.69 238.71H657.11V243.12H652.69zM652.69 248.34H657.11V252.75H652.69zM652.69 257.97H657.11V262.39H652.69zM652.69 267.6H657.11V272.02H652.69zM652.69 277.23H657.11V281.65H652.69zM652.69 286.87H657.11V291.28H652.69zM652.69 296.5H657.11V300.91H652.69zM652.69 306.13H657.11V310.55H652.69z"/>
<rect x="647.3" y="240.86" width="12.4" height="3" fill="#000"/>
</g>
<rect x="558.6" y="2.9" width="13.4" height="12.8" fill="#080808"/>
<text class="lg" x="573.6" y="15.7">Before mip</text>
<rect x="558.6" y="19" width="13.4" height="13" fill="#080808"/>
<rect x="560.1" y="20.5" width="10.4" height="10" fill="#585858"/>
<text class="lg" x="573.6" y="31.4">After mip</text>
<rect x="558.6" y="35.2" width="13.4" height="12.8" fill="#080808"/>
<rect x="560.2" y="36.8" width="10.2" height="9.6" fill="#e4e4e4"/>
<path fill="#1e1e1e" d="M559.36 36.59a0.9 1.35 0 1 0 1.8 0a0.9 1.35 0 1 0 -1.8 0zM559.36 41.41a0.9 1.35 0 1 0 1.8 0a0.9 1.35 0 1 0 -1.8 0zM559.36 46.24a0.9 1.35 0 1 0 1.8 0a0.9 1.35 0 1 0 -1.8 0zM561.9 39a0.9 1.35 0 1 0 1.8 0a0.9 1.35 0 1 0 -1.8 0zM561.9 43.83a0.9 1.35 0 1 0 1.8 0a0.9 1.35 0 1 0 -1.8 0zM564.44 36.59a0.9 1.35 0 1 0 1.8 0a0.9 1.35 0 1 0 -1.8 0zM564.44 41.41a0.9 1.35 0 1 0 1.8 0a0.9 1.35 0 1 0 -1.8 0zM564.44 46.24a0.9 1.35 0 1 0 1.8 0a0.9 1.35 0 1 0 -1.8 0zM566.98 39a0.9 1.35 0 1 0 1.8 0a0.9 1.35 0 1 0 -1.8 0zM566.98 43.83a0.9 1.35 0 1 0 1.8 0a0.9 1.35 0 1 0 -1.8 0zM569.52 36.59a0.9 1.35 0 1 0 1.8 0a0.9 1.35 0 1 0 -1.8 0zM569.52 41.41a0.9 1.35 0 1 0 1.8 0a0.9 1.35 0 1 0 -1.8 0zM569.52 46.24a0.9 1.35 0 1 0 1.8 0a0.9 1.35 0 1 0 -1.8 0z"/>
<text class="lg" x="573.6" y="47.1">Before mep</text>
<rect x="558.6" y="51.8" width="13.4" height="12.1" fill="#080808"/>
<path fill="#fff" d="M561.09 53.3H565.7V55.4H561.09zM561.09 60.41H565.7V62.4H561.09zM565.9 55.6H570.3V60.21H565.9z"/>
<text class="lg" x="573.6" y="63.6">After mep</text>
</svg></body></html>
